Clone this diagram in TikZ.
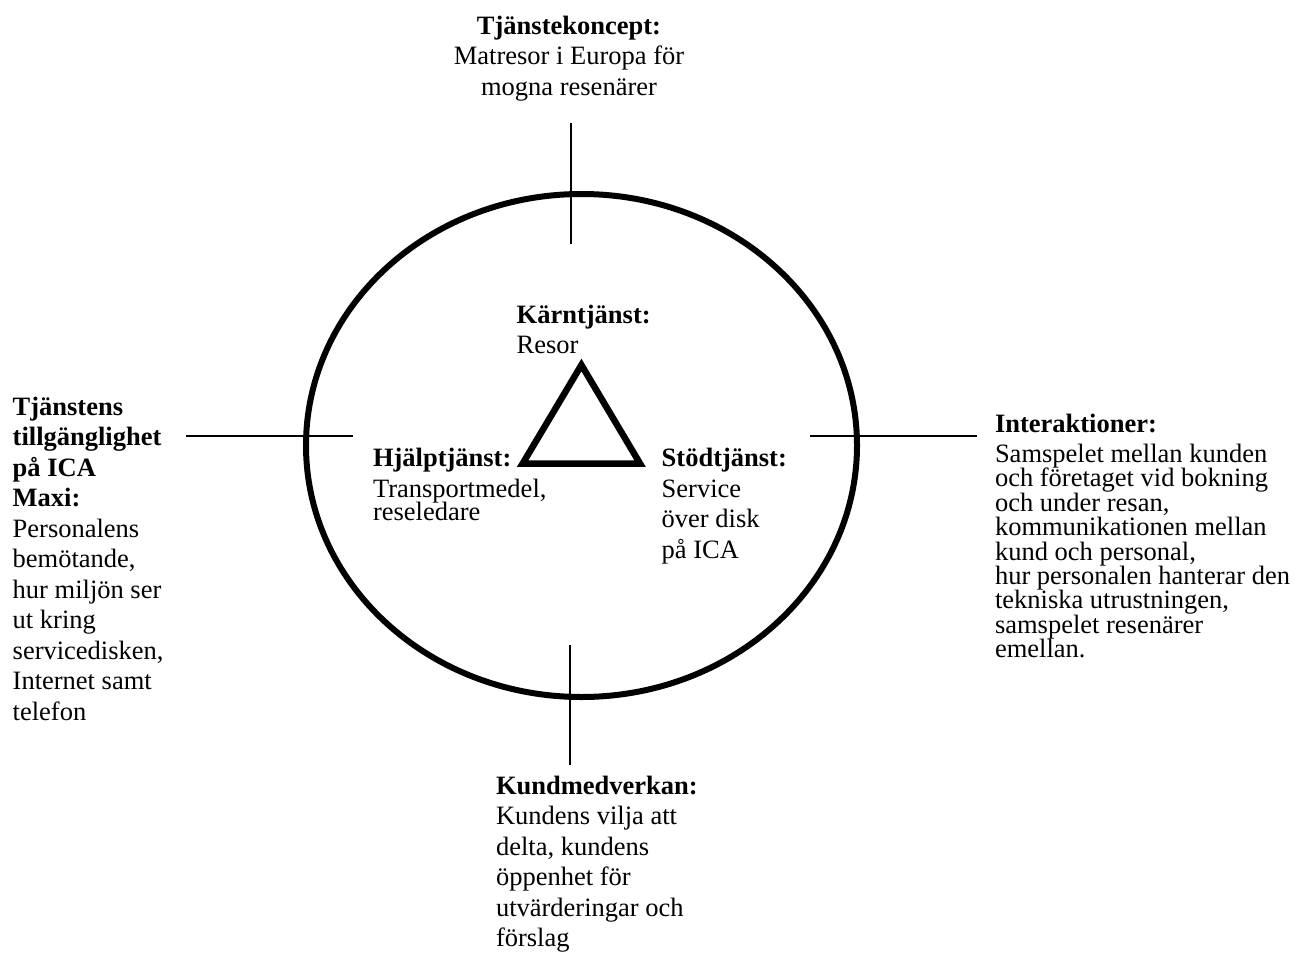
\documentclass[tikz,border=0pt]{standalone}
\usepackage{fontspec}
\setmainfont{Liberation Serif}
\usetikzlibrary{shapes.geometric}

% one unit = 1pt, y grows downwards
\tikzset{
  txt/.style={inner sep=0pt, outer sep=0pt, anchor=base west,
              font=\fontsize{26.5}{30.5}\selectfont},
  txtc/.style={txt, anchor=base},
  axis/.style={line width=1.8pt, line cap=butt},
  ring/.style={ellipse, draw, line width=6pt, inner sep=0pt,
               minimum width=551pt, minimum height=503pt},
  tri/.style={line width=6.5pt, line join=miter},
}
\newcommand{\blk}[1]{\begin{tabular}[t]{@{}l@{}}#1\end{tabular}}
\newcommand{\blkc}[1]{\begin{tabular}[t]{@{}c@{}}#1\end{tabular}}

\begin{document}
\begin{tikzpicture}[x=1pt, y=-1pt]
  \useasboundingbox (0,0) rectangle (1298,955);

  % outer service ring
  \node[ring] (ring) at (581.5,445.5) {};

  % core triangle
  \coordinate (apex) at (581.4,365);
  \coordinate (bl)   at (522.7,463.5);
  \coordinate (br)   at (640,463.5);
  \draw[tri] (apex) -- (bl) -- (br) -- cycle;

  % cross axes through the ring
  \coordinate (n1) at (571,123.3);  \coordinate (n2) at (571,244.3);
  \coordinate (s1) at (570,645);    \coordinate (s2) at (570,764.5);
  \coordinate (w1) at (186,435.7);  \coordinate (w2) at (352.7,435.7);
  \coordinate (e1) at (810,435.7);  \coordinate (e2) at (976.7,435.7);
  \draw[axis] (n1) -- (n2);
  \draw[axis] (s1) -- (s2);
  \draw[axis] (w1) -- (w2);
  \draw[axis] (e1) -- (e2);

  % labels
  \node[txtc] (concept) at (569,34.5) {\blkc{\textbf{Tjänstekoncept:}\\
      Matresor i Europa för\\ mogna resenärer}};

  \node[txt] (access) at (12.7,415) {\blk{\textbf{Tjänstens}\\
      \textbf{tillgänglighet}\\ \textbf{på ICA}\\ \textbf{Maxi:}\\
      Personalens\\ bemötande,\\ hur miljön ser\\ ut kring\\
      servicedisken,\\ Internet samt\\ telefon}};

  \node[txt] (core) at (516.7,323.3) {\blk{\textbf{Kärntjänst:}\\ Resor}};

  \node[txt] (help) at (373,466.7) {\blk{\textbf{Hjälptjänst:}\\
      Transportmedel,\\[-7pt] reseledare}};

  \node[txt] (support) at (661.7,466.7) {\blk{\textbf{Stödtjänst:}\\
      Service\\ över disk\\ på ICA}};

  \node[txt] (inter) at (995,432) {\blk{\textbf{Interaktioner:}\\
      Samspelet mellan kunden\\[-6.1pt]
      och företaget vid bokning\\[-6.1pt]
      och under resan,\\[-6.1pt]
      kommunikationen mellan\\[-6.1pt]
      kund och personal,\\[-6.1pt]
      hur personalen hanterar den\\[-6.1pt]
      tekniska utrustningen,\\[-6.1pt]
      samspelet resenärer\\[-6.1pt]
      emellan.}};

  \node[txt] (customer) at (496,794) {\blk{\textbf{Kundmedverkan:}\\
      Kundens vilja att\\ delta, kundens\\ öppenhet för\\
      utvärderingar och\\ förslag}};
\end{tikzpicture}
\end{document}
